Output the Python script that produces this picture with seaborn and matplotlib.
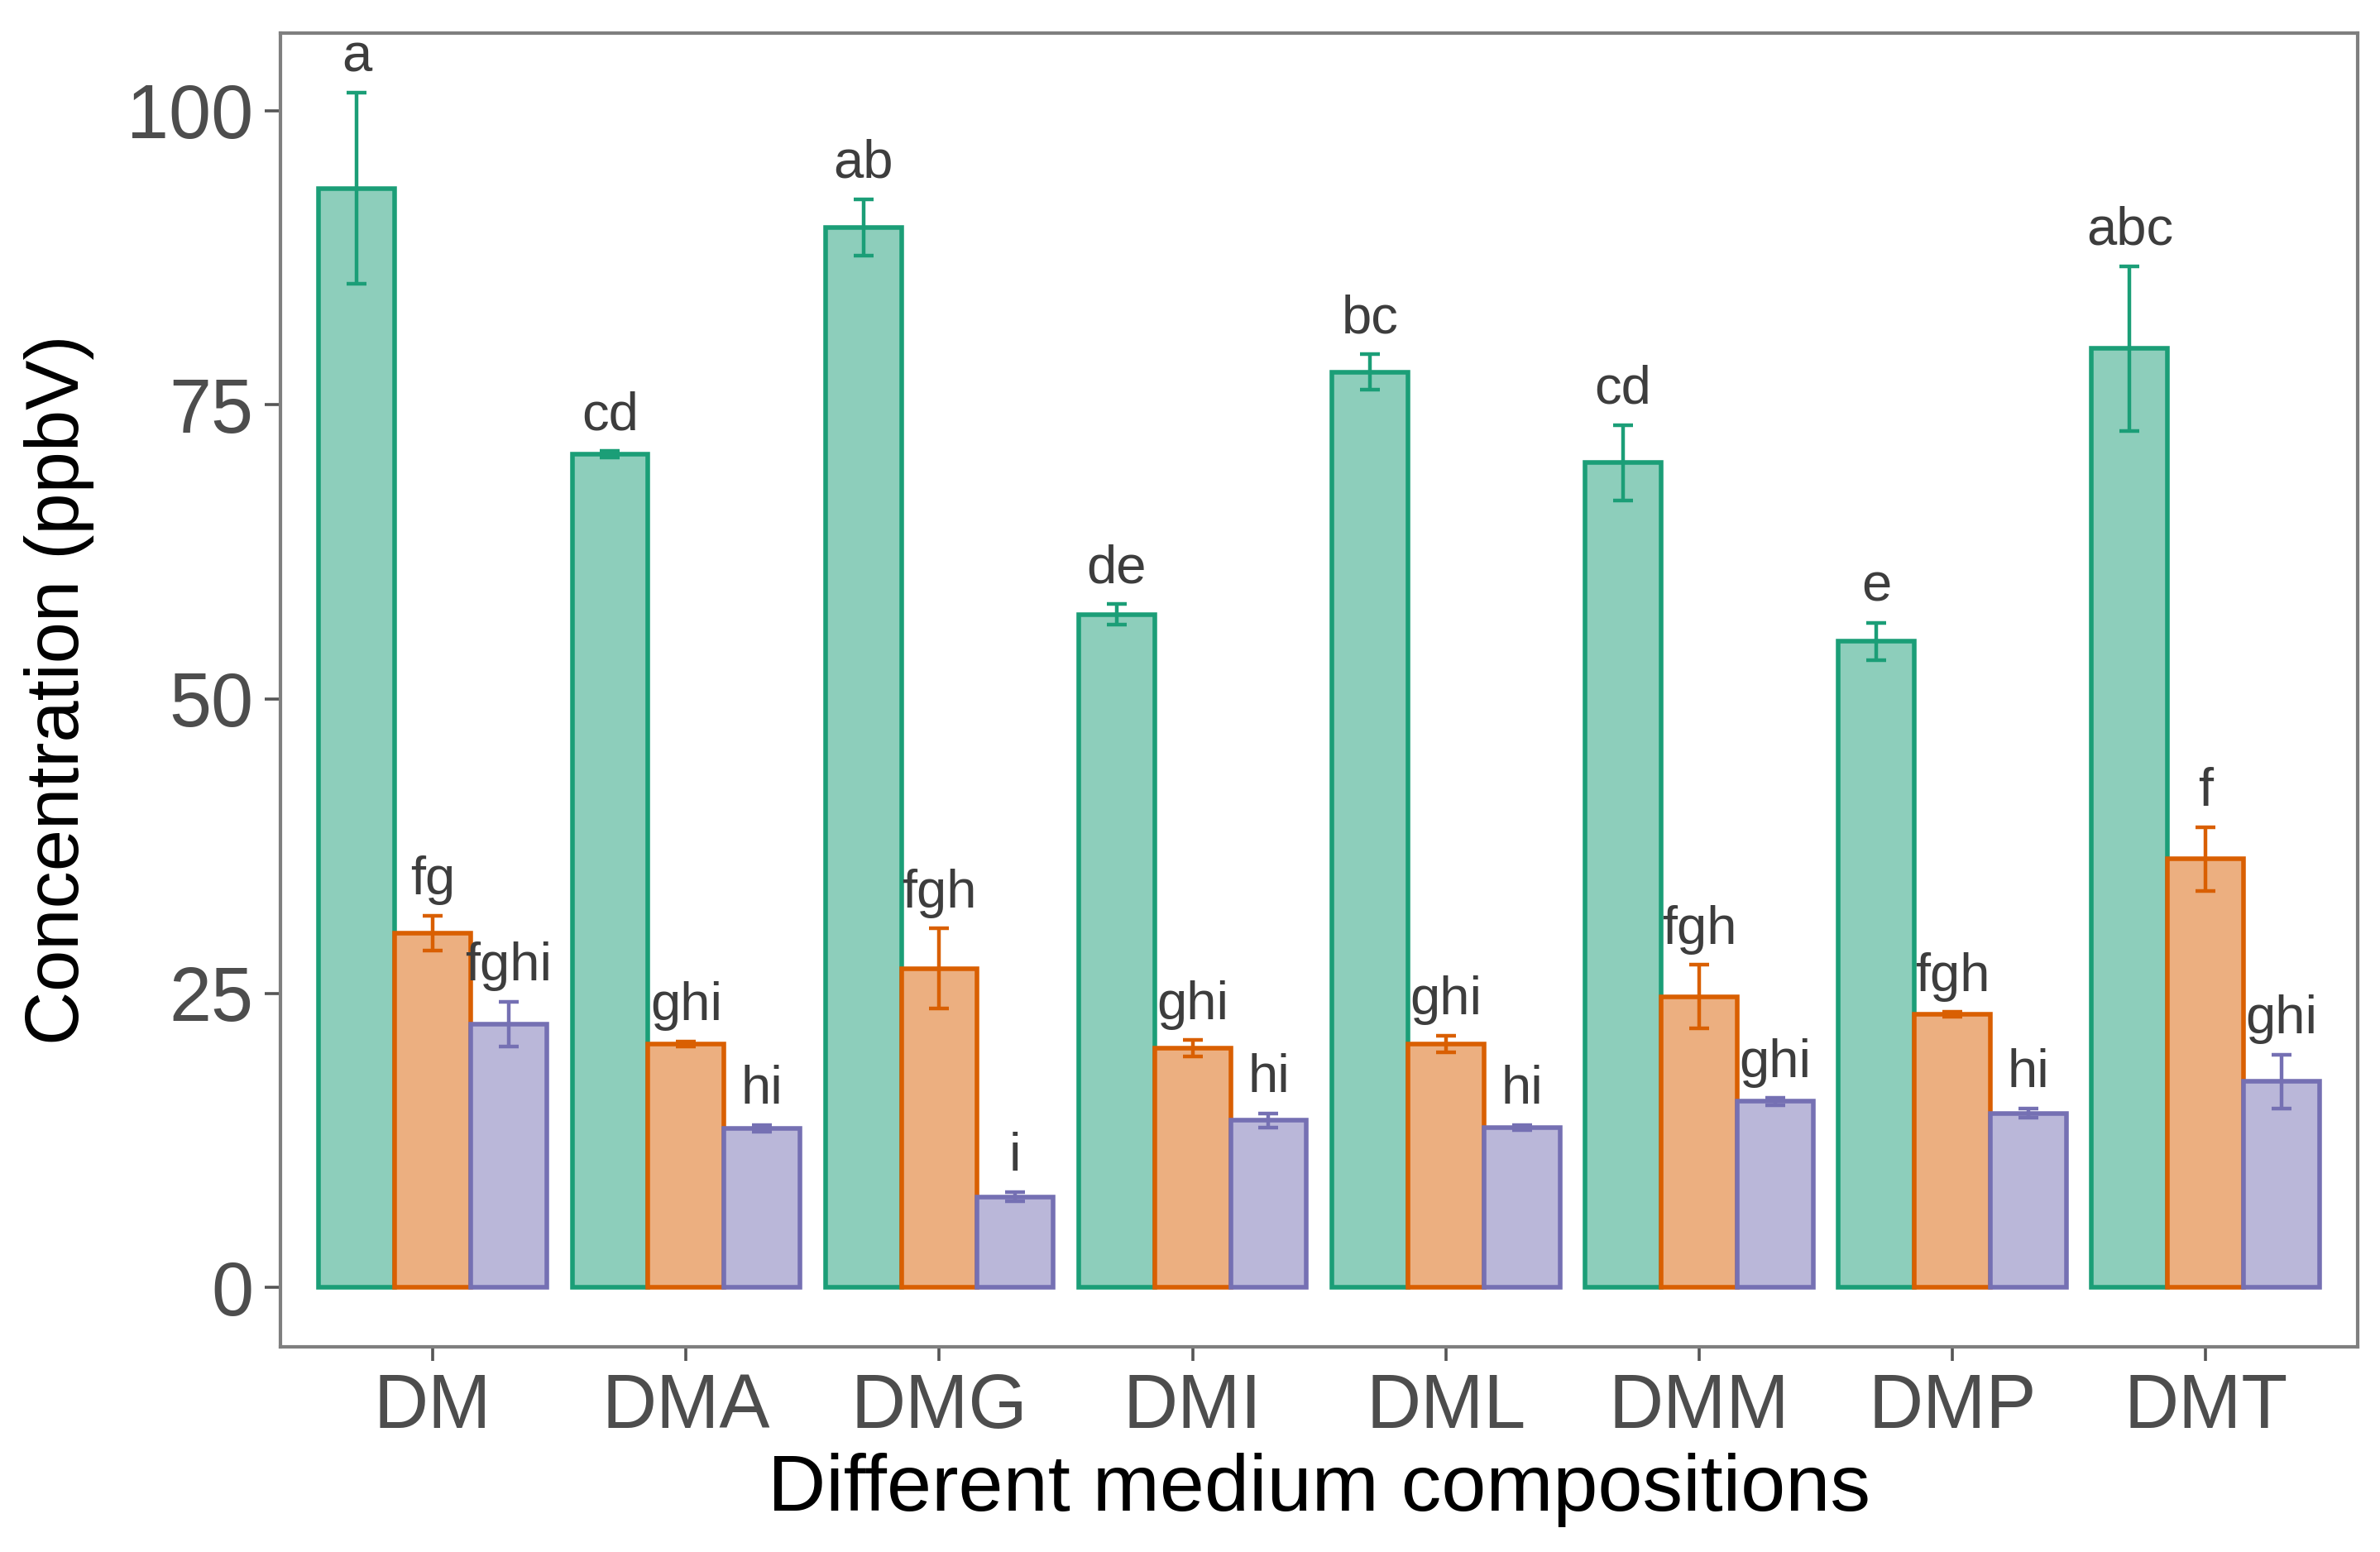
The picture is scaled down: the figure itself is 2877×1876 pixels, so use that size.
## grouped bar chart of concentrations per medium composition, with letters
import pandas as pd
import matplotlib
matplotlib.use("Agg")
import matplotlib.pyplot as plt
import seaborn as sns

# data
media = ["DM", "DMA", "DMG", "DMI", "DML", "DMM", "DMP", "DMT"]
series = ["S1", "S2", "S3"]

s1_mean = [93.4, 70.8, 90.1, 57.2, 77.8, 70.1, 54.9, 79.8]
s1_se = [8.1, 0.3, 2.4, 0.9, 1.5, 3.2, 1.6, 7.0]
s2_mean = [30.1, 20.7, 27.1, 20.3, 20.7, 24.7, 23.2, 36.4]
s2_se = [1.5, 0.2, 3.4, 0.7, 0.7, 2.7, 0.2, 2.7]
s3_mean = [22.4, 13.5, 7.7, 14.2, 13.6, 15.8, 14.8, 17.5]
s3_se = [1.9, 0.3, 0.4, 0.6, 0.2, 0.3, 0.4, 2.3]

s1_letters = ["a", "cd", "ab", "de", "bc", "cd", "e", "abc"]
s2_letters = ["fg", "ghi", "fgh", "ghi", "ghi", "fgh", "fgh", "f"]
s3_letters = ["fghi", "hi", "i", "hi", "hi", "ghi", "hi", "ghi"]

line_colors = ["#1B9E77", "#D95F02", "#7570B3"]
fill_colors = ["#8DCEBB", "#ECAF80", "#BAB7D9"]

# long-form table for seaborn
rows = []
for name, means, ses, letters in zip(series,
                                     [s1_mean, s2_mean, s3_mean],
                                     [s1_se, s2_se, s3_se],
                                     [s1_letters, s2_letters, s3_letters]):
    for m, v, e, l in zip(media, means, ses, letters):
        rows.append({"Medium": m, "Series": name, "Value": v, "SE": e, "Letter": l})
df = pd.DataFrame(rows)

sns.set_style("white")
plt.rcParams["font.family"] = ["Liberation Sans", "DejaVu Sans"]

fig, ax = plt.subplots(figsize=(14.385, 9.38), dpi=200)
fig.subplots_adjust(left=0.118, right=0.9906, top=0.9787, bottom=0.132)

sns.barplot(data=df, x="Medium", y="Value", hue="Series", order=media,
            hue_order=series, palette=fill_colors, saturation=1, errorbar=None,
            width=0.9, gap=0, legend=False, ax=ax)

# outline bars, add error bars and letters
bar_groups = list(ax.containers)
for i, cont in enumerate(bar_groups):
    sub = df[df.Series == series[i]].set_index("Medium").loc[media]
    for patch, (_, r) in zip(cont.patches, sub.iterrows()):
        patch.set_edgecolor(line_colors[i])
        patch.set_linewidth(2.0)
        cx = patch.get_x() + patch.get_width() / 2
        ax.errorbar(cx, r.Value, yerr=r.SE, color=line_colors[i],
                    elinewidth=1.6, capsize=4.3, capthick=1.6, fmt="none", zorder=3)
        ax.text(cx, r.Value + r.SE + 1.8, r.Letter, ha="center", va="baseline",
                fontsize=23.5, color="#3D3D3D")

ax.set_xlim(-0.6, 7.6)
ax.set_ylim(-5.08, 106.6)
ax.set_yticks([0, 25, 50, 75, 100])

ax.set_xlabel("Different medium compositions", fontsize=35, color="black", labelpad=4)
ax.set_ylabel("Concentration (ppbV)", fontsize=32.5, color="black", labelpad=14)
ax.tick_params(axis="both", labelsize=33, labelcolor="#4D4D4D", color="#555555",
               width=1.3, direction="out", bottom=True, left=True)
ax.tick_params(axis="x", length=6, pad=5)
ax.tick_params(axis="y", length=7, pad=5)
ax.grid(False)
for sp in ax.spines.values():
    sp.set_visible(True)
    sp.set_color("#7F7F7F")
    sp.set_linewidth(1.5)

fig.savefig("out.png", dpi=200)
